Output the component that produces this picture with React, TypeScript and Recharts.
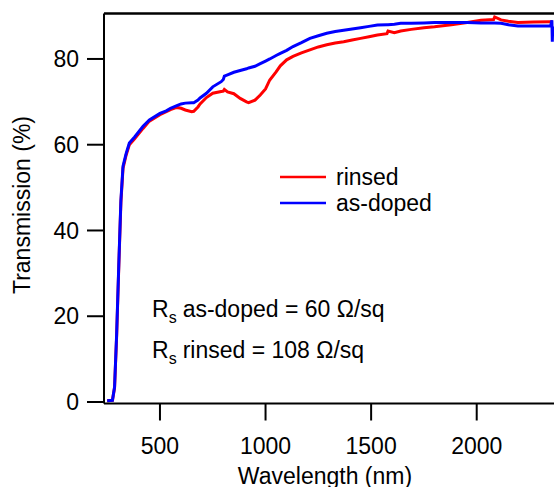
import React from 'react';
import { LineChart, Line, XAxis, YAxis, ReferenceLine, Legend, Customized } from 'recharts';

const wavelength = [
  250, 275, 285, 295, 305, 315, 325, 340, 355, 380, 420, 450, 500, 530, 550, 580, 600, 620, 650, 660,
  680, 690, 720, 750, 790, 800, 805, 820, 850, 880, 910, 920, 950, 975, 1000, 1020, 1050, 1070, 1100, 1130,
  1170, 1210, 1250, 1290, 1330, 1370, 1410, 1450, 1490, 1530, 1575, 1580, 1610, 1640, 1690, 1750, 1800, 1880, 1955, 2020,
  2080, 2085, 2115, 2150, 2195, 2270, 2350, 2356, 2358, 2360,
];

const rinsed = [
  0.3, 0.4, 3.3, 15.5, 31.5, 46.5, 54.5, 57.6, 60.0, 61.4, 63.8, 65.5, 67.0, 67.7, 68.2, 68.7, 68.5, 68.1, 67.7, 67.8,
  68.8, 69.5, 71.0, 72.0, 72.4, 72.5, 72.9, 72.3, 71.9, 70.8, 70.0, 69.8, 70.4, 71.6, 73.0, 75.1, 77.0, 78.4, 79.8, 80.6,
  81.4, 82.1, 82.8, 83.3, 83.7, 84.0, 84.4, 84.8, 85.2, 85.6, 85.9, 86.5, 86.1, 86.5, 86.9, 87.3, 87.5, 88.0, 88.5, 89.0,
  89.2, 89.8, 89.1, 88.8, 88.5, 88.6, 88.7, 88.7, 88.7, 88.7,
];

const asDoped = [
  0.3, 0.4, 3.5, 16.0, 32.0, 47.0, 55.0, 58.0, 60.4, 61.8, 64.3, 65.8, 67.3, 67.9, 68.5, 69.1, 69.5, 69.7, 69.8, 69.8,
  70.4, 70.9, 72.0, 73.5, 74.7, 75.2, 76.0, 76.3, 76.9, 77.3, 77.7, 77.9, 78.3, 78.9, 79.5, 80.0, 80.8, 81.3, 82.0, 82.9,
  83.8, 84.8, 85.4, 86.0, 86.4, 86.7, 87.0, 87.3, 87.6, 87.9, 88.0, 88.0, 88.1, 88.3, 88.3, 88.4, 88.5, 88.5, 88.5, 88.4,
  88.4, 88.4, 88.3, 88.0, 87.7, 87.7, 87.7, 89.0, 84.0, 87.6,
];

const seriesNames = ['rinsed', 'as-doped'];
const xTicks = [500, 1000, 1500, 2000];
const yTicks = [0, 20, 40, 60, 80];
const annotations = [
  { name: 'as-doped', value: 60 },
  { name: 'rinsed', value: 108 },
];

const data = wavelength.map((w, i) => ({ wavelength: w, rinsed: rinsed[i], asDoped: asDoped[i] }));

const FONT = '"Liberation Sans", Arial, sans-serif';
const X_DOMAIN = [235, 2366];
const Y_DOMAIN = [-0.35, 90.6];

function LegendBox({ payload }: any) {
  // keep the plotting order, not the alphabetical one
  const items = [...(payload || [])].sort(
    (a: any, b: any) => seriesNames.indexOf(a.value) - seriesNames.indexOf(b.value)
  );
  return (
    <div style={{ fontFamily: FONT, fontSize: 23, color: '#000', lineHeight: '26px' }}>
      {items.map((p: any) => (
        <div key={p.value} style={{ display: 'flex', alignItems: 'center', height: 26 }}>
          <svg width={46} height={4} style={{ marginRight: 10 }}>
            <line x1={0} y1={2} x2={46} y2={2} stroke={p.color} strokeWidth={2.5} />
          </svg>
          <span>{p.value}</span>
        </div>
      ))}
    </div>
  );
}

function Notes() {
  return (
    <g fontFamily={FONT} fill="#000">
      {annotations.map((a, i) => (
        <text key={a.name} x={152} y={317 + i * 41} fontSize={23}>
          <tspan>R</tspan>
          <tspan dy={6} fontSize={16}>s</tspan>
          <tspan dy={-6} dx={6}>{`${a.name} = ${a.value} \u03A9/sq`}</tspan>
        </text>
      ))}
    </g>
  );
}

export default function App() {
  return (
    <div style={{ position: 'absolute', left: 0, top: 0, width: 554, height: 487, background: '#fff', fontFamily: FONT }}>
      <LineChart width={554} height={487} data={data} margin={{ top: 13.5, right: 0, left: 0, bottom: 0 }}>
        <XAxis
          type="number"
          dataKey="wavelength"
          domain={X_DOMAIN}
          ticks={xTicks}
          allowDataOverflow
          height={83.5}
          tickSize={17}
          tickMargin={17}
          axisLine={{ stroke: '#000', strokeWidth: 2 }}
          tickLine={{ stroke: '#000', strokeWidth: 2 }}
          tick={{ fill: '#000', fontSize: 23, fontFamily: FONT }}
          label={() => (
            <text x={325} y={483.5} textAnchor="middle" fontSize={23} fontFamily={FONT} fill="#000">
              Wavelength (nm)
            </text>
          )}
        />
        <YAxis
          type="number"
          domain={Y_DOMAIN}
          ticks={yTicks}
          allowDataOverflow
          width={104}
          tickSize={17}
          tickMargin={8}
          axisLine={{ stroke: '#000', strokeWidth: 2 }}
          tickLine={{ stroke: '#000', strokeWidth: 2 }}
          tick={{ fill: '#000', fontSize: 23, fontFamily: FONT }}
          label={() => (
            <text
              x={30}
              y={205}
              transform="rotate(-90, 30, 205)"
              textAnchor="middle"
              fontSize={23}
              fontFamily={FONT}
              fill="#000"
            >
              Transmission (%)
            </text>
          )}
        />
        <ReferenceLine y={Y_DOMAIN[1]} stroke="#000" strokeWidth={2.5} />
        <Line
          type="linear"
          dataKey="rinsed"
          name="rinsed"
          stroke="#ff0000"
          strokeWidth={3}
          dot={false}
          isAnimationActive={false}
        />
        <Line
          type="linear"
          dataKey="asDoped"
          name="as-doped"
          stroke="#0000ff"
          strokeWidth={3}
          dot={false}
          isAnimationActive={false}
        />
        <Legend
          layout="horizontal"
          verticalAlign="middle"
          align="center"
          content={<LegendBox />}
          wrapperStyle={{ position: 'absolute', left: 280, top: 164, width: 'auto' }}
        />
        <Customized component={Notes} />
      </LineChart>
    </div>
  );
}
